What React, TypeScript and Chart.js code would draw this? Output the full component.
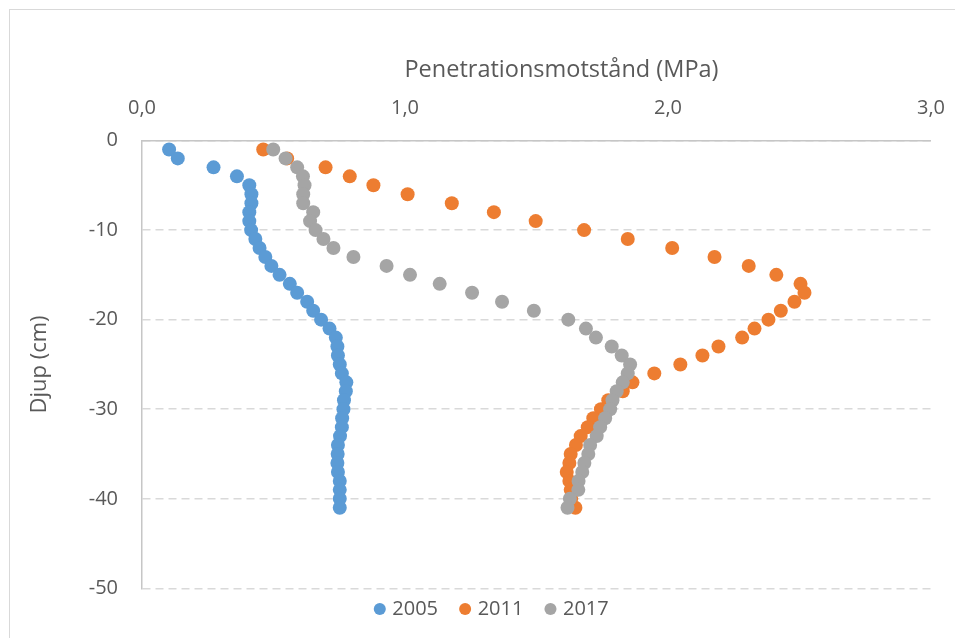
import React, { useEffect, useRef } from 'react';
import { Chart, registerables } from 'chart.js';

Chart.register(...registerables);

const depths = [
  -1, -2, -3, -4, -5, -6, -7, -8, -9, -10,
  -11, -12, -13, -14, -15, -16, -17, -18, -19, -20,
  -21, -22, -23, -24, -25, -26, -27, -28, -29, -30,
  -31, -32, -33, -34, -35, -36, -37, -38, -39, -40, -41,
];

const values2005 = [
  0.103, 0.136, 0.272, 0.361, 0.408, 0.416, 0.416, 0.408, 0.408, 0.415,
  0.431, 0.447, 0.469, 0.492, 0.523, 0.562, 0.590, 0.628, 0.651, 0.681,
  0.713, 0.737, 0.743, 0.745, 0.752, 0.760, 0.777, 0.775, 0.768, 0.766,
  0.761, 0.760, 0.753, 0.745, 0.744, 0.743, 0.745, 0.752, 0.752, 0.752, 0.752,
];

const values2011 = [
  0.461, 0.552, 0.698, 0.790, 0.880, 1.010, 1.178, 1.338, 1.497, 1.681,
  1.847, 2.016, 2.177, 2.307, 2.412, 2.504, 2.519, 2.481, 2.429, 2.382,
  2.329, 2.282, 2.192, 2.131, 2.047, 1.948, 1.865, 1.828, 1.773, 1.745,
  1.716, 1.695, 1.668, 1.650, 1.630, 1.625, 1.615, 1.625, 1.630, 1.632, 1.648,
];

const values2017 = [
  0.499, 0.546, 0.590, 0.612, 0.618, 0.613, 0.613, 0.651, 0.639, 0.660,
  0.690, 0.728, 0.804, 0.930, 1.019, 1.132, 1.255, 1.369, 1.490, 1.621,
  1.688, 1.726, 1.786, 1.824, 1.856, 1.847, 1.828, 1.805, 1.789, 1.780,
  1.761, 1.742, 1.729, 1.704, 1.697, 1.682, 1.674, 1.660, 1.659, 1.627, 1.618,
];

const seriesNames = ['2005', '2011', '2017'];
const seriesColors = ['#5B9BD5', '#ED7D31', '#A5A5A5'];
const xTitle = 'Penetrationsmotstånd (MPa)';
const yTitle = 'Djup (cm)';

const FONT = "'Open Sans', sans-serif";
const TEXT = '#595959';

const toPoints = (vals: number[]) => vals.map((v, i) => ({ x: v, y: depths[i] }));

// Shift the bottom legend up and right to sit where the original legend sits.
const legendShift = {
  id: 'legendShift',
  afterLayout(chart: any) {
    const l = chart.legend;
    if (l) {
      l.top -= 14;
      l.bottom -= 14;
      l.left += 15;
      l.right += 15;
    }
  },
};

// Horizontal axis title, offset to the right of the plot centre as in the original.
const xAxisTitle = {
  id: 'xAxisTitle',
  afterDraw(chart: any) {
    const { ctx, chartArea } = chart;
    ctx.save();
    ctx.font = `23.5px ${FONT}`;
    ctx.fillStyle = TEXT;
    ctx.textAlign = 'center';
    ctx.textBaseline = 'middle';
    ctx.fillText(xTitle, (chartArea.left + chartArea.right) / 2 + 25, chartArea.top - 70);
    ctx.restore();
  },
};

export default function App() {
  const ref = useRef<HTMLCanvasElement | null>(null);

  useEffect(() => {
    if (!ref.current) return;
    const allValues = [values2005, values2011, values2017];
    const chart = new Chart(ref.current, {
      type: 'scatter',
      data: {
        datasets: allValues.map((vals, i) => ({
          label: seriesNames[i],
          data: toPoints(vals),
          backgroundColor: seriesColors[i],
          borderColor: seriesColors[i],
          pointRadius: 7,
          pointHoverRadius: 7,
          pointBorderWidth: 0,
          order: 3 - i,
        })),
      },
      options: {
        animation: false,
        responsive: false,
        devicePixelRatio: 1,
        layout: { padding: { left: 0, right: 19, top: 0, bottom: 0 } },
        plugins: {
          tooltip: { enabled: false },
          legend: {
            position: 'bottom',
            labels: {
              usePointStyle: true,
              pointStyle: 'circle',
              boxWidth: 5,
              boxHeight: 8.5,
              padding: 24.6,
              color: TEXT,
              font: { family: FONT, size: 20 },
              sort: (a: any, b: any) => a.datasetIndex - b.datasetIndex,
            },
          },
        },
        scales: {
          x: {
            type: 'linear',
            position: 'top',
            min: 0,
            max: 3,
            ticks: {
              stepSize: 1,
              padding: 20,
              color: TEXT,
              font: { family: FONT, size: 20 },
              callback: (v: any) => Number(v).toFixed(1).replace('.', ','),
            },
            grid: { display: false, drawTicks: false },
            border: { display: true, color: '#c6c6c6', width: 1.5 },
            title: { display: false },
            afterFit: (s: any) => {
              s.height = 130.5;
            },
          },
          y: {
            type: 'linear',
            min: -50,
            max: 0,
            ticks: {
              stepSize: 10,
              padding: 24,
              color: TEXT,
              font: { family: FONT, size: 20 },
            },
            grid: { color: '#d9d9d9', lineWidth: 1.5, drawTicks: false },
            border: { display: true, color: '#c6c6c6', width: 1.5, dash: [8, 5] },
            title: {
              display: true,
              text: yTitle,
              color: TEXT,
              font: { family: FONT, size: 22 },
              padding: { top: 17, bottom: 0 },
            },
            afterFit: (s: any) => {
              s.width = 132;
            },
          },
        },
      },
      plugins: [legendShift, xAxisTitle],
    } as any);
    return () => chart.destroy();
  }, []);

  return (
    <div style={{ position: 'fixed', left: 0, top: 0, width: '100vw', height: '100vh', overflow: 'hidden', background: '#fff' }}>
      <div
        style={{
          position: 'absolute',
          left: 9,
          top: 9,
          width: 945,
          height: 640,
          border: '1px solid #d9d9d9',
        }}
      >
        <canvas
          ref={ref}
          width={955}
          height={633}
          style={{ position: 'absolute', left: 0, top: 0, width: 955, height: 633 }}
        />
      </div>
    </div>
  );
}
